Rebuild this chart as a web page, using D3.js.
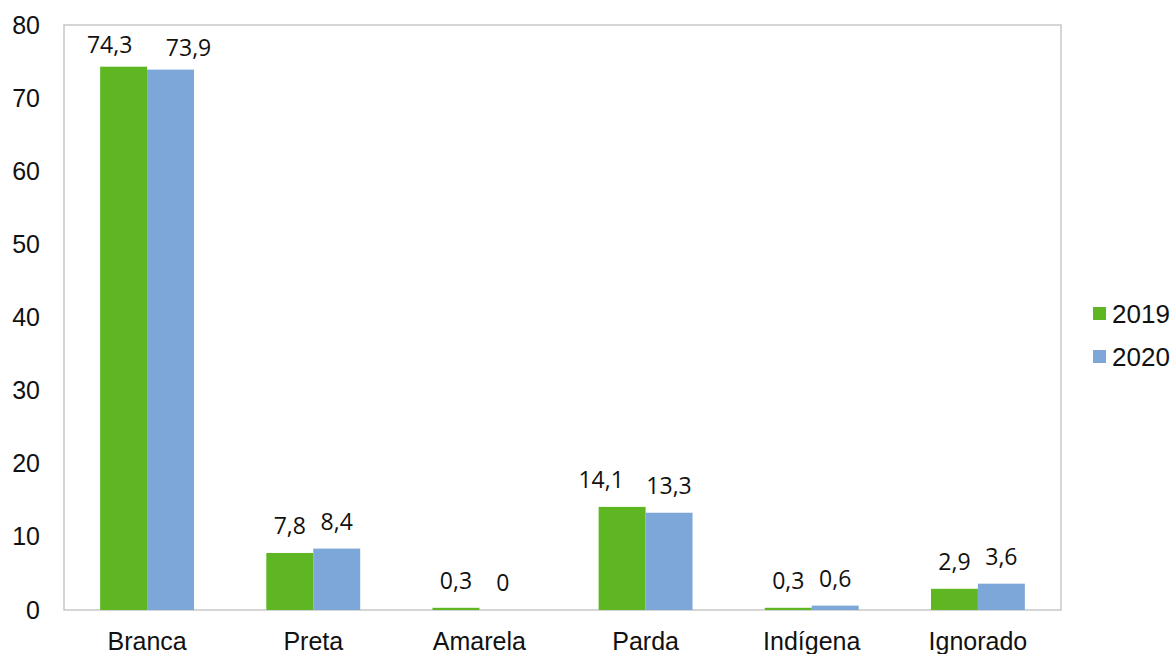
<!DOCTYPE html>
<html>
<head>
<meta charset="utf-8">
<script src="https://cdn.jsdelivr.net/npm/d3@7"></script>
<style>
  body { margin: 0; background: #fff; }
  svg { display: block; }
</style>
</head>
<body>
<svg width="1175" height="654"></svg>
<script>
// dados
const categories = ["Branca", "Preta", "Amarela", "Parda", "Indígena", "Ignorado"];
const years = ["2019", "2020"];
const values2019 = [74.3, 7.8, 0.3, 14.1, 0.3, 2.9];
const values2020 = [73.9, 8.4, 0, 13.3, 0.6, 3.6];
const yTicks = [0, 10, 20, 30, 40, 50, 60, 70, 80];
const colors = ["#5eb722", "#7da7d9"];

// rótulos deslocados à mão no original (para não se sobreporem)
const labelNudge = {
    "Branca-0": [-14, 5], "Branca-1": [18, 5],
    "Parda-0": [-21, 0]
};

const svg = d3.select("svg");
const margin = { top: 25, right: 114, bottom: 44, left: 64 };
const width = +svg.attr("width");
const height = +svg.attr("height");
const x0 = margin.left, x1 = width - margin.right;
const y0 = height - margin.bottom, y1 = margin.top;

const xScale = d3.scaleBand().domain(categories).range([x0, x1]).paddingInner(0.435).paddingOuter(0.2175);
const xSub = d3.scaleBand().domain(years).range([0, xScale.bandwidth()]);
const yScale = d3.scaleLinear().domain([0, 80]).range([y0, y1]);

// moldura
svg.append("rect")
   .attr("x", x0).attr("y", y1)
   .attr("width", x1 - x0).attr("height", y0 - y1)
   .attr("fill", "none").attr("stroke", "#c8c8c8").attr("stroke-width", 1.5);

// eixo y
const yAxis = svg.append("g")
   .attr("transform", `translate(${x0},0)`)
   .call(d3.axisLeft(yScale).tickValues(yTicks).tickSize(0).tickPadding(24));
yAxis.select(".domain").remove();
yAxis.selectAll("text")
   .attr("font-family", "'Liberation Sans', Arial, sans-serif")
   .attr("font-size", "25px").attr("fill", "#111");

// eixo x
const xAxis = svg.append("g")
   .attr("transform", `translate(0,${y0})`)
   .call(d3.axisBottom(xScale).tickSize(0).tickPadding(22));
xAxis.select(".domain").remove();
xAxis.selectAll("text")
   .attr("font-family", "'Liberation Sans', Arial, sans-serif")
   .attr("font-size", "25px").attr("fill", "#111");

const series = [values2019, values2020];
series.forEach((vals, s) => {
    const g = svg.append("g");
    g.selectAll("rect")
     .data(vals)
     .enter()
     .append("rect")
     .attr("x", (d, i) => xScale(categories[i]) + xSub(years[s]))
     .attr("y", d => yScale(d))
     .attr("width", xSub.bandwidth())
     .attr("height", d => y0 - yScale(d))
     .attr("fill", colors[s]);

    const nudge = i => labelNudge[categories[i] + "-" + s] || [0, 0];
    g.selectAll("text")
     .data(vals)
     .enter()
     .append("text")
     .attr("x", (d, i) => xScale(categories[i]) + xSub(years[s]) + xSub.bandwidth() / 2 + nudge(i)[0])
     .attr("y", (d, i) => yScale(d) - 19 + nudge(i)[1])
     .attr("text-anchor", "middle")
     .attr("font-family", "'Open Sans', 'DejaVu Sans', sans-serif")
     .attr("font-size", "23px")
     .attr("fill", "#111")
     .text(d => String(d).replace(".", ","));
});

// legenda
const legend = svg.append("g").attr("transform", "translate(1093,307)");
years.forEach((yr, i) => {
    legend.append("rect")
          .attr("x", 0).attr("y", i * 43)
          .attr("width", 13).attr("height", 13)
          .attr("fill", colors[i]);
    legend.append("text")
          .attr("x", 19).attr("y", i * 43 + 16)
          .attr("font-family", "'Liberation Sans', Arial, sans-serif")
          .attr("font-size", "26px").attr("fill", "#111")
          .text(yr);
});
</script>
</body>
</html>
